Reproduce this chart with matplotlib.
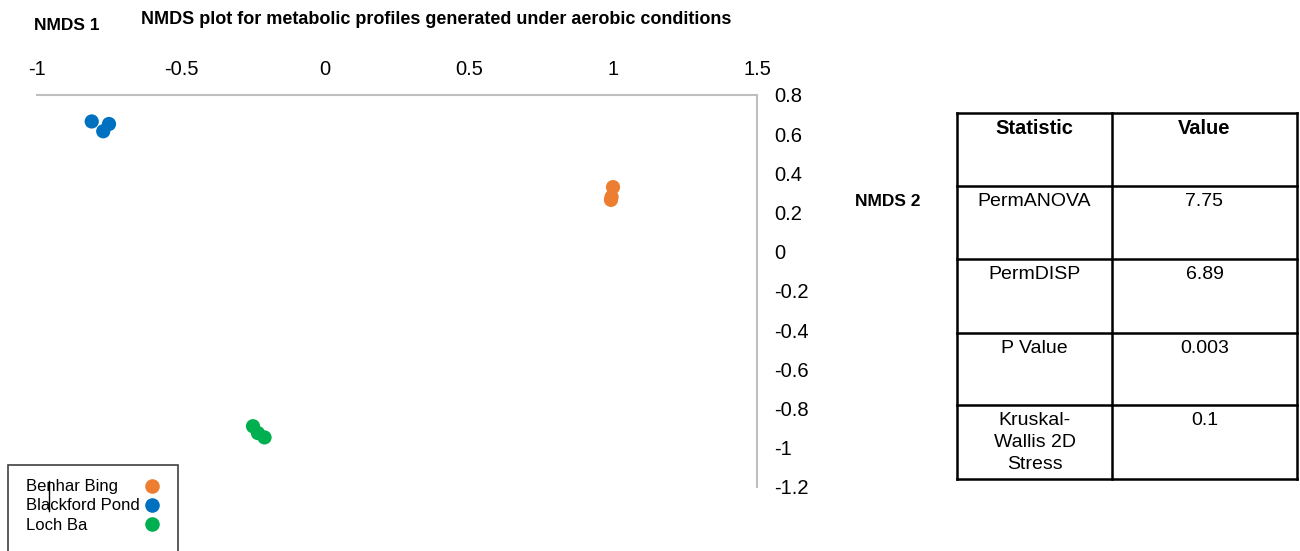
import matplotlib.pyplot as plt
from matplotlib.lines import Line2D
from matplotlib.patches import Rectangle

# --- data ---
sites = ['Benhar Bing', 'Blackford Pond', 'Loch Ba']
colors = ['#ED7D31', '#0070C0', '#00B050']
nmds1 = {
    'Benhar Bing': [1.00, 0.995, 0.993],
    'Blackford Pond': [-0.81, -0.77, -0.75],
    'Loch Ba': [-0.25, -0.233, -0.21],
}
nmds2 = {
    'Benhar Bing': [0.33, 0.28, 0.265],
    'Blackford Pond': [0.665, 0.615, 0.652],
    'Loch Ba': [-0.89, -0.925, -0.947],
}
x_ticks = [-1, -0.5, 0, 0.5, 1, 1.5]
y_ticks = [0.8, 0.6, 0.4, 0.2, 0, -0.2, -0.4, -0.6, -0.8, -1, -1.2]

stat_header = ['Statistic', 'Value']
stat_names = ['PermANOVA', 'PermDISP', 'P Value', 'Kruskal-\nWallis 2D\nStress']
stat_values = ['7.75', '6.89', '0.003', '0.1']

plt.rcParams['font.family'] = 'Liberation Sans'

W, H = 1300, 551
fig = plt.figure(figsize=(13, 5.51), dpi=100)

def fx(px):
    return px / W

def fy(py):
    return 1 - py / H

# --- scatter axes: spines on top and right only ---
ax = fig.add_axes([fx(37), fy(487), fx(757) - fx(37), fy(95) - fy(487)])
for site, c in zip(sites, colors):
    ax.scatter(nmds1[site], nmds2[site], s=105, color=c, edgecolors='none',
               label=site, zorder=3)
ax.set_xlim(-1, 1.5)
ax.set_ylim(-1.2, 0.8)
ax.set_xticks(x_ticks)
ax.set_xticklabels([f'{v:g}' for v in x_ticks])
ax.set_yticks(y_ticks)
ax.set_yticklabels([f'{v:g}' for v in y_ticks])
ax.xaxis.tick_top()
ax.yaxis.tick_right()
ax.tick_params(axis='x', length=0, pad=11.5, labelsize=14.5)
ax.tick_params(axis='y', length=0, pad=12.5, labelsize=14.5)
for lab in ax.get_yticklabels():
    lab.set_horizontalalignment('left')
for side in ['left', 'bottom']:
    ax.spines[side].set_visible(False)
for side in ['top', 'right']:
    ax.spines[side].set_color('#BFBFBF')
    ax.spines[side].set_linewidth(1.5)

# --- titles ---
fig.text(fx(436), fy(20), 'NMDS plot for metabolic profiles generated under aerobic conditions',
         ha='center', va='center', fontsize=13, fontweight='bold')
fig.text(fx(67), fy(26), 'NMDS 1', ha='center', va='center', fontsize=12.5,
         fontweight='bold')
fig.text(fx(888), fy(201), 'NMDS 2', ha='center', va='center', fontsize=12.5,
         fontweight='bold')

# --- legend box (text left, marker right) ---
fig.add_artist(Rectangle((fx(8), fy(560)), fx(178) - fx(8), fy(465) - fy(560),
                         transform=fig.transFigure, fill=False, edgecolor='#404040',
                         linewidth=1.2, clip_on=False))
for i, (site, c) in enumerate(zip(sites, colors)):
    yy = 487 + 19 * i
    fig.text(fx(26), fy(yy), site, ha='left', va='center', fontsize=12)
    fig.add_artist(Line2D([fx(152)], [fy(yy - 1)], marker='o', markersize=10.5,
                          color=c, markeredgecolor='none', linestyle='none'))
fig.add_artist(Line2D([fx(49), fx(49)], [fy(481), fy(511)], color='black', linewidth=1))

# --- statistics table ---
tl, tm, tr = 957, 1112, 1297
row_y = [113, 186, 259, 333, 405, 479]
lw = 1.8
for y in row_y:
    fig.add_artist(Line2D([fx(tl), fx(tr)], [fy(y), fy(y)], color='black', linewidth=lw))
for x in [tl, tm, tr]:
    fig.add_artist(Line2D([fx(x), fx(x)], [fy(row_y[0]), fy(row_y[-1])], color='black', linewidth=lw))

cx1 = (tl + tm) / 2
cx2 = (tm + tr) / 2
fig.text(fx(cx1), fy(row_y[0] + 6), stat_header[0], ha='center', va='top',
         fontsize=14.5, fontweight='bold')
fig.text(fx(cx2), fy(row_y[0] + 6), stat_header[1], ha='center', va='top',
         fontsize=14.5, fontweight='bold')
for i, (name, val) in enumerate(zip(stat_names, stat_values)):
    top = row_y[i + 1] + 7
    fig.text(fx(cx1), fy(top), name, ha='center', va='top', fontsize=14,
             linespacing=1.4)
    fig.text(fx(cx2), fy(top), val, ha='center', va='top', fontsize=14)

fig.savefig('out.png', dpi=100)
